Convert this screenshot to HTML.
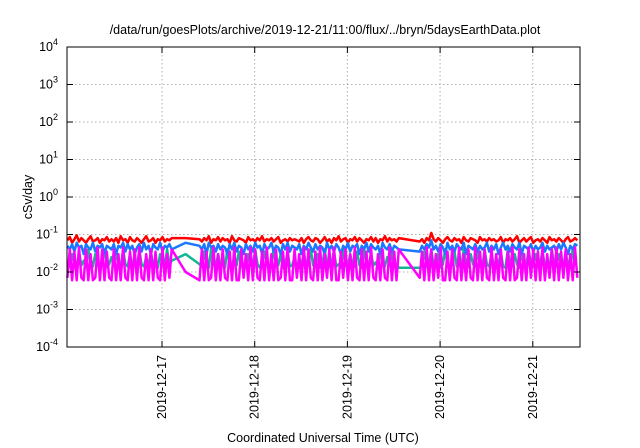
<!DOCTYPE html>
<html><head><meta charset="utf-8"><style>
body{margin:0;background:#fff}
svg{display:block;font-family:"Liberation Sans",sans-serif}
</style></head><body>
<svg id="chart" width="640" height="448" xmlns="http://www.w3.org/2000/svg">
<rect width="640" height="448" fill="#fff"/>
<text x="325" y="34" font-size="12.5" text-anchor="middle">/data/run/goesPlots/archive/2019-12-21/11:00/flux/../bryn/5daysEarthData.plot</text>
<g id="grid"></g>
<g id="series"></g>
<g id="axes"></g>
<text transform="translate(32,197) rotate(-90)" font-size="12.5" text-anchor="middle">cSv/day</text>
<text x="323" y="442" font-size="12.5" text-anchor="middle">Coordinated Universal Time (UTC)</text>
</svg>
<script>
const yExponents=[-4,-3,-2,-1,0,1,2,3,4];
const xTickLabels=["2019-12-17","2019-12-18","2019-12-19","2019-12-20","2019-12-21"];
const xTickDays=[1,2,3,4,5];
const timeStartDay=-0.02, timeStepDay=0.025;
const N=null;
// values in 1e-3 cSv/day
const redValues=[70,85,60,75,95,65,80,70,60,75, 90,65,70,80,60,75,70,85,65,75, 65,80,60,90,70,75,60,85,70,65, 80,70,60,75,90,65,70,80,60,75,
70,85,65,75,70,80,N,N,N,N, N,80,N,N,N,N,N,75,65,80, 70,90,60,75,70,85,65,80,70,75, 60,90,70,65,80,75,70,60,85,70,
75,65,80,70,90,65,75,70,80,65, 75,85,60,70,75,65,80,70,75,70, 65,80,60,75,85,70,65,80,75,60, 70,85,65,75,60,80,70,90,65,75,
80,60,75,70,85,65,80,70,60,75, 70,85,65,80,60,75,70,90,65,80, 70,75,65,80,N,N,N,N,N,N, N,N,65,75,60,80,70,110,75,65,
80,70,60,75,85,70,65,80,70,75, 60,85,70,65,80,75,70,60,85,70, 75,65,80,70,75,65,70,85,60,75, 70,80,65,75,90,60,70,80,65,75,
85,60,70,75,65,80,70,60,85,70, 75,65,80,70,60,75,85,65,70,80, 70];
const blueValues=[50,40,55,35,60,45,50,30,55,45, 40,60,35,50,45,55,30,50,45,40, 55,30,50,45,60,35,55,40,50,30, 45,55,35,60,40,50,30,55,45,40,
60,35,50,45,55,40,N,N,N,N, N,60,N,N,N,N,N,50,40,55, 30,60,45,50,35,55,40,50,45,30, 55,40,60,35,50,45,30,55,40,50,
35,60,45,50,30,55,40,45,60,35, 50,45,30,55,40,60,35,50,45,40, 55,30,50,40,60,45,35,55,40,50, 45,30,60,40,50,35,55,45,30,50,
40,60,35,50,45,55,30,50,40,60, 35,55,45,40,50,30,60,45,40,55, 35,50,45,40,N,N,N,N,N,N, N,N,35,50,40,55,45,70,40,50,
35,55,45,30,60,40,50,35,55,45, 40,60,30,50,45,40,55,35,50,40, 45,60,35,50,40,55,30,45,60,40, 50,35,55,45,40,60,30,50,45,40,
55,35,50,40,45,60,35,50,40,45, 50,35,55,40,60,45,30,50,40,55, 50];
const greenValues=[18,14,30,16,12,35,15,20,13,40, 16,14,30,15,13,18,40,14,16,25, 15,35,14,13,40,16,14,30,15,18, 13,40,16,14,25,15,35,14,16,13,
30,15,14,40,16,20,N,N,N,N, N,30,N,N,N,N,N,16,14,35, 15,13,40,16,14,30,15,18,13,40, 16,14,25,15,35,14,16,13,30,15,
14,40,16,13,18,35,15,14,16,40, 14,15,30,13,16,35,14,15,25,14, 13,15,35,14,16,40,15,14,30,13, 16,40,15,14,18,35,14,16,13,40,
15,14,30,16,14,35,15,13,40,16, 14,30,15,18,13,40,16,14,25,15, 35,14,16,13,N,N,N,N,N,N, N,N,13,15,35,14,16,40,15,14,
30,13,16,40,15,14,18,35,14,16, 13,40,15,14,30,16,14,35,15,13, 40,16,14,30,15,18,16,35,14,13, 40,15,14,30,16,13,35,15,14,40,
16,14,30,15,18,35,14,16,13,40, 15,14,30,16,14,35,15,13,40,16, 16];
const magentaValues=[7,40,6,35,6,45,7,6,40,6, 30,6,7,45,6,40,6,35,7,6, 40,6,30,6,45,7,6,35,6,40, 6,45,7,6,30,6,40,6,35,7,
6,45,6,30,7,40,N,N,N,N, N,10,N,N,N,N,N,6,40,6, 35,6,7,45,6,30,6,40,7,6, 35,6,45,6,6,40,7,30,6,45,
6,40,7,6,35,6,45,6,30,6, 40,6,7,35,6,45,6,6,40,7, 30,6,45,6,40,7,6,35,6,45, 6,30,7,40,6,45,6,6,35,7,
40,6,30,6,45,7,6,40,6,35, 6,45,7,6,30,6,40,7,6,45, 6,35,6,40,N,N,N,N,N,N, N,N,7,35,6,45,6,40,6,30,
7,45,6,6,35,6,40,7,6,45, 6,30,6,40,7,6,45,6,35,6, 40,7,6,45,6,30,6,40,7,6, 35,6,45,6,7,40,6,30,6,45,
7,40,6,35,6,45,6,30,7,40, 6,45,6,35,7,40,6,30,6,45, 7];

const L=67,R=580,T=47,B=347;
const day0X=69.3, pxPerDay=92.7;
function xScale(d){return day0X+d*pxPerDay;}
function yScale(v){return B-(Math.log10(v)+4)*(B-T)/8;}
const NS="http://www.w3.org/2000/svg";
function mk(tag,attrs,parent){const e=document.createElementNS(NS,tag);for(const k in attrs)e.setAttribute(k,attrs[k]);parent.appendChild(e);return e;}
const grid=document.getElementById('grid'),axes=document.getElementById('axes'),series=document.getElementById('series');

yExponents.forEach(p=>{
  const y=yScale(Math.pow(10,p));
  if(p>-4&&p<4){const g=mk('line',{x1:L,x2:R,y1:y,y2:y,stroke:'#b0b0b0','stroke-dasharray':'1.5,2.5','stroke-width':1},grid);
  
  }
  mk('line',{x1:L,x2:L+6,y1:y,y2:y,stroke:'#000'},axes);
  mk('line',{x1:R,x2:R-6,y1:y,y2:y,stroke:'#000'},axes);
  const t=mk('text',{x:58,y:y+4,'font-size':12.5,'text-anchor':'end'},axes);
  
  
  t.textContent='10';
  const s=mk('tspan',{dy:-6,'font-size':9},t);s.textContent=String(p);
});
xTickDays.forEach((d,i)=>{
  const x=xScale(d);
  const g=mk('line',{x1:x,x2:x,y1:T,y2:B,stroke:'#b0b0b0','stroke-dasharray':'1.5,2.5','stroke-width':1},grid);
  
  
  mk('line',{x1:x,x2:x,y1:B,y2:B-6,stroke:'#000'},axes);
  mk('line',{x1:x,x2:x,y1:T,y2:T+6,stroke:'#000'},axes);
  const t=mk('text',{transform:`translate(${x+4},355) rotate(-90)`,'font-size':12.5,'text-anchor':'end'},axes);
  
  
  t.textContent=xTickLabels[i];
});
const frame=mk('rect',{x:L,y:T,width:R-L,height:B-T,fill:'none',stroke:'#000','stroke-width':1},axes);



function drawSeries(vals,color,name,w){
  const pts=[];
  vals.forEach((v,i)=>{if(v!==null)pts.push(xScale(timeStartDay+i*timeStepDay).toFixed(1)+','+yScale(v*1e-3).toFixed(1));});
  const p=mk('polyline',{points:pts.join(' '),fill:'none',stroke:color,'stroke-width':w,'stroke-linejoin':'round'},series);
  
  
}
drawSeries(redValues,'#ff0000','series-red',2.5);
drawSeries(greenValues,'#10b890','series-green',2.5);
drawSeries(blueValues,'#1a78ff','series-blue',2.5);
drawSeries(magentaValues,'#ff00ff','series-magenta',2.5);
</script>
</body></html>
